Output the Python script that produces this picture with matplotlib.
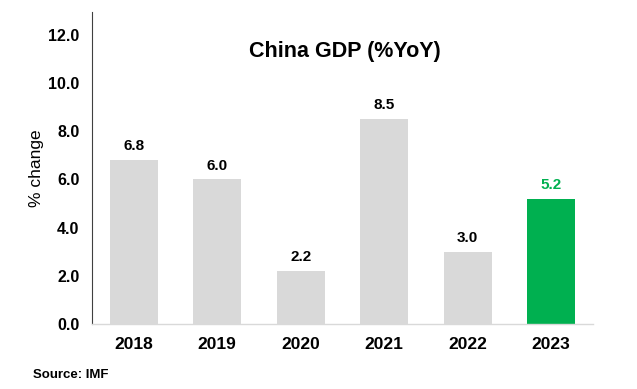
import matplotlib.pyplot as plt

plt.rcParams['font.family'] = ['Liberation Sans', 'DejaVu Sans']

years = ['2018', '2019', '2020', '2021', '2022', '2023']
gdp = [6.8, 6.0, 2.2, 8.5, 3.0, 5.2]
labels = ['6.8', '6.0', '2.2', '8.5', '3.0', '5.2']
yticks = [0, 2, 4, 6, 8, 10, 12]

grey = '#D9D9D9'
green = '#00B050'
colors = [grey] * 5 + [green]

fig = plt.figure(figsize=(6.37, 3.89), dpi=100)
ax = fig.add_axes([0.1444, 0.167, 0.7865, 0.802])

x = range(len(years))
bars = ax.bar(x, gdp, width=0.57, color=colors)

# value labels above the bars
for rect, val, lab, c in zip(bars, gdp, labels, colors):
    tc = green if c == green else 'black'
    ax.annotate(lab, (rect.get_x() + rect.get_width() / 2, val),
                xytext=(0, 5), textcoords='offset points',
                ha='center', va='bottom', fontsize=11,
                fontweight='bold', color=tc)

ax.set_xlim(-0.5, len(years) - 0.5)
ax.set_ylim(0, 12.95)
ax.set_xticks(list(x))
ax.set_xticklabels(years, fontsize=12.5, fontweight='bold')
ax.set_yticks(yticks)
ax.set_yticklabels([f'{t:.1f}' for t in yticks], fontsize=11.5, fontweight='bold')
ax.tick_params(axis='both', length=0)
ax.tick_params(axis='x', pad=9)
ax.tick_params(axis='y', pad=9)

for s in ['top', 'right']:
    ax.spines[s].set_visible(False)
ax.spines['left'].set_color('#404040')
ax.spines['left'].set_linewidth(0.8)
ax.spines['bottom'].set_color(grey)
ax.spines['bottom'].set_linewidth(1.0)

ax.set_ylabel('% change', fontsize=12.5)
ax.yaxis.set_label_coords(-0.096, 0.5)

ax.text(0.505, 0.875, 'China GDP (%YoY)', transform=ax.transAxes,
        ha='center', va='center', fontsize=15.5, fontweight='bold')

fig.text(0.052, 0.037, 'Source: IMF', fontsize=9.5, fontweight='bold',
         ha='left', va='center')

fig.savefig('out.png', dpi=100)
